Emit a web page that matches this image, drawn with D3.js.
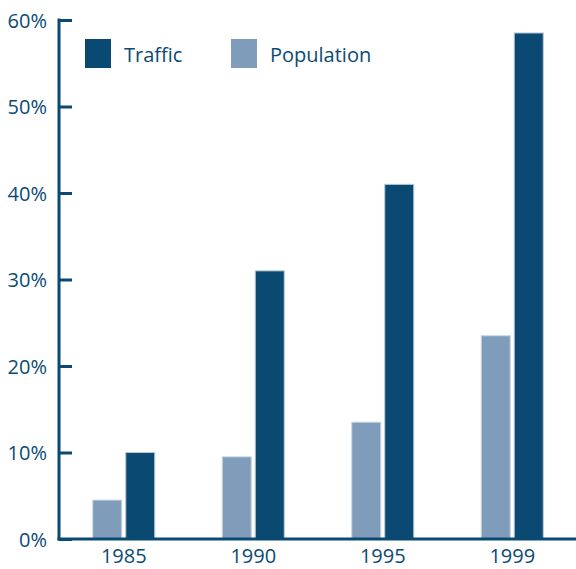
<!DOCTYPE html>
<html>
<head>
<meta charset="utf-8">
<script src="https://cdn.jsdelivr.net/npm/d3@7"></script>
<style>
  body { margin: 0; background: #fff; }
  svg text { font-family: "Open Sans", "Noto Sans", sans-serif; fill: #0b4a72; }
</style>
</head>
<body>
<div id="chart"></div>
<script>
const years = ['1985', '1990', '1995', '1999']
const population = [4.5, 9.5, 13.5, 23.5]
const traffic = [10, 31, 41, 58.5]
const yTicks = [0, 10, 20, 30, 40, 50, 60]

const dark = '#0a4a72'
const light = '#7f9dba'

let w = 576, h = 569

let svg = d3.select('#chart')
    .append('svg')
    .attr('width', w)
    .attr('height', h)

let x = d3.scaleBand()
    .domain(years)
    .range([59, 577])

let y = d3.scaleLinear()
    .domain([0, 60])
    .range([539, 20])

let barW = 29, gap = 4

// bars
let groups = svg.selectAll('g.year')
    .data(years)
    .enter()
    .append('g')
    .attr('class', 'year')

groups.append('rect')
    .attr('x', d => x(d) + x.bandwidth() / 2 - barW - gap / 2)
    .attr('y', (d, i) => y(population[i]))
    .attr('width', barW)
    .attr('height', (d, i) => y(0) - y(population[i]))
    .attr('fill', light)
    .attr('stroke', '#c9d6e2')
    .attr('stroke-width', 1)

groups.append('rect')
    .attr('x', d => x(d) + x.bandwidth() / 2 + gap / 2)
    .attr('y', (d, i) => y(traffic[i]))
    .attr('width', barW)
    .attr('height', (d, i) => y(0) - y(traffic[i]))
    .attr('fill', dark)
    .attr('stroke', '#b8c9d8')
    .attr('stroke-width', 1)

// y axis
let yAxis = svg.append('g')
    .attr('transform', 'translate(59,0)')
    .call(d3.axisRight(y).tickValues(yTicks).tickSize(13).tickFormat(d => d + '%'))

yAxis.select('.domain').remove()
yAxis.selectAll('.tick line').attr('stroke', dark).attr('stroke-width', 3)
yAxis.selectAll('.tick text')
    .attr('x', -12)
    .attr('text-anchor', 'end')
    .attr('font-size', 20)
    .style('font-family', '"Open Sans", sans-serif')
    .attr('fill', '#0b4a72')
    .attr('dy', '0.35em')

svg.append('line')
    .attr('x1', 59).attr('x2', 59)
    .attr('y1', 18.5).attr('y2', 540.5)
    .attr('stroke', dark).attr('stroke-width', 3)

svg.append('line')
    .attr('x1', 57.5).attr('x2', 576)
    .attr('y1', 539).attr('y2', 539)
    .attr('stroke', dark).attr('stroke-width', 3)

// x labels
svg.selectAll('text.xlab')
    .data(years)
    .enter()
    .append('text')
    .attr('class', 'xlab')
    .attr('x', d => x(d) + x.bandwidth() / 2)
    .attr('y', 563)
    .attr('text-anchor', 'middle')
    .attr('font-size', 20)
    .text(d => d)

// legend
let legend = [
    {label: 'Traffic', color: dark, x: 85},
    {label: 'Population', color: light, x: 231}
]

let lg = svg.selectAll('g.legend')
    .data(legend)
    .enter()
    .append('g')
    .attr('class', 'legend')

lg.append('rect')
    .attr('x', d => d.x)
    .attr('y', 39)
    .attr('width', 26)
    .attr('height', 29)
    .attr('fill', d => d.color)

lg.append('text')
    .attr('x', d => d.x + 39)
    .attr('y', 62)
    .attr('font-size', 20)
    .text(d => d.label)
</script>
</body>
</html>
